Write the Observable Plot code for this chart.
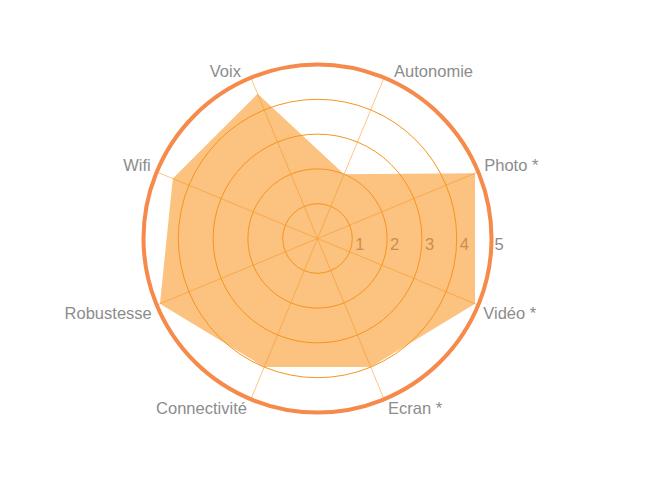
<!DOCTYPE html>
<html>
<head>
<meta charset="utf-8">
<script src="https://cdn.jsdelivr.net/npm/d3@7"></script>
<script src="https://cdn.jsdelivr.net/npm/@observablehq/plot@0.6"></script>
<style>
  html, body { margin: 0; padding: 0; background: #fff; }
  #chart svg { display: block; }
</style>
</head>
<body>
<div id="chart"></div>
<script>
// ---- data ----
const categories = ["Voix", "Autonomie", "Photo *", "Vidéo *", "Ecran *", "Connectivité", "Robustesse", "Wifi"];
const values = [4.5, 2.0, 4.9, 4.9, 4.0, 4.0, 4.9, 4.5];
const ringTicks = [1, 2, 3, 4];
const tickLabels = ["1", "2", "3", "4", "5"];
const maxValue = 5;

// ---- geometry helpers (scale setup) ----
const W = 645, H = 484;
const CX = 317, CY = 238;   // centre in pixels
const U = 34.8;             // pixels per unit
const angle = i => (i * 45 - 22.5) * Math.PI / 180; // clockwise from top
const px = (i, v) => v * Math.sin(angle(i));
const py = (i, v) => v * Math.cos(angle(i));

const points = categories.map((c, i) => ({cat: c, i, v: values[i]}));
const axes = categories.map((c, i) => ({cat: c, i}));

const font = "'Liberation Sans', Arial, Helvetica, sans-serif";
const gray = "#8c8c8c";
const fs = 16.5;

// label offsets per position (top, upper side, lower side, bottom)
const labelMarks = axes.map(a => {
  const s = Math.sin(angle(a.i));
  const c = Math.cos(angle(a.i));
  const right = s > 0;
  const top = c > 0;
  const steep = Math.abs(c) > 0.7;
  const dx = (right ? 1 : -1) * (steep ? (top ? 10 : 4) : (top ? 6 : 5));
  const dy = top ? -1 : (steep ? 3 : 2);
  return Plot.text([a], {
    x: d => px(d.i, maxValue),
    y: d => py(d.i, maxValue),
    text: d => d.cat,
    textAnchor: right ? "start" : "end",
    lineAnchor: top ? "bottom" : "top",
    dx, dy,
    fill: gray,
    fontSize: fs,
    fontFamily: font
  });
});

const chart = Plot.plot({
  width: W,
  height: H,
  margin: 0,
  style: {background: "#fff", fontFamily: font},
  x: {domain: [-CX / U, (W - CX) / U], axis: null},
  y: {domain: [-(H - CY) / U, CY / U], axis: null},
  r: {type: "linear", domain: [0, maxValue], range: [0, maxValue * U]},
  marks: [
    // inner rings
    Plot.dot(ringTicks, {x: 0, y: 0, r: d => d, fill: "none", stroke: "#f7941d", strokeWidth: 1}),
    // spokes
    Plot.link(axes, {
      x1: 0, y1: 0,
      x2: d => px(d.i, maxValue), y2: d => py(d.i, maxValue),
      stroke: "#f7941d", strokeOpacity: 0.6, strokeWidth: 0.9
    }),
    // tick labels
    Plot.text(tickLabels, {
      x: d => +d, y: 0, text: d => d,
      textAnchor: "start", lineAnchor: "top", dx: 3, dy: 0,
      fill: gray, fontSize: fs, fontFamily: font
    }),
    // data polygon
    Plot.line(points, {
      x: d => px(d.i, d.v),
      y: d => py(d.i, d.v),
      curve: "linear-closed",
      fill: "#f7921c",
      fillOpacity: 0.56,
      stroke: "none"
    }),
    // outer ring
    Plot.dot([maxValue], {x: 0, y: 0, r: d => d, fill: "none", stroke: "#f58a4b", strokeWidth: 4}),
    ...labelMarks
  ]
});

document.getElementById("chart").appendChild(chart);
</script>
</body>
</html>
